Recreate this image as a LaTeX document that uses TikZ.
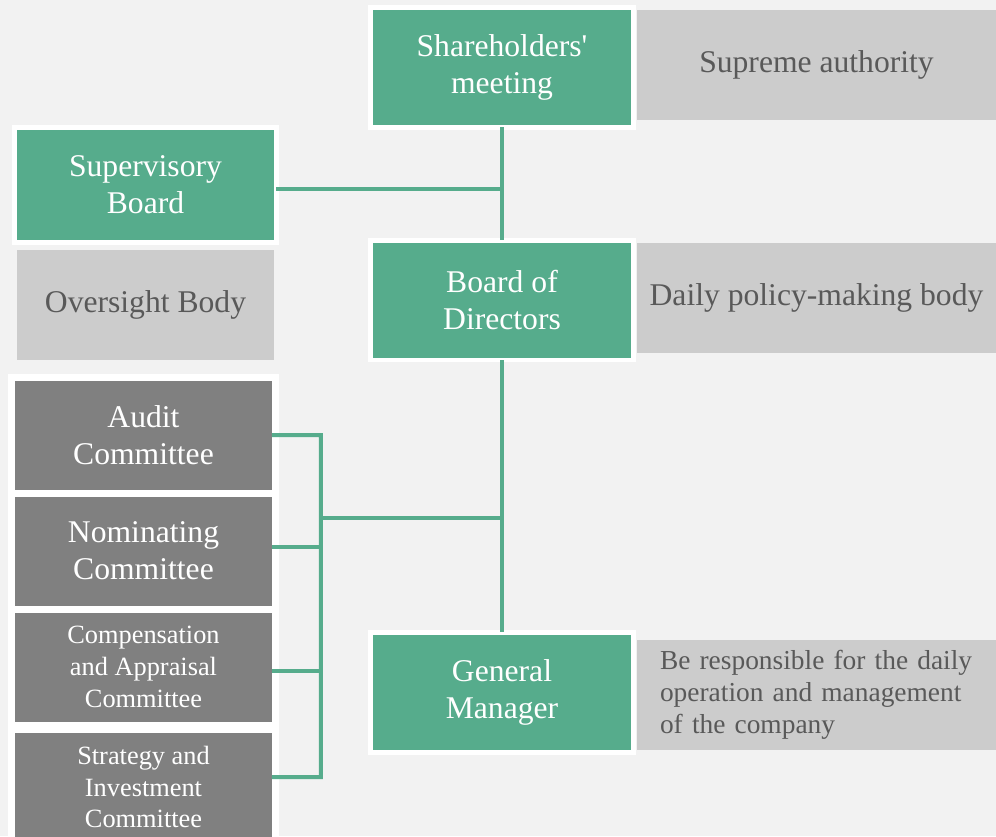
\documentclass[tikz,border=0pt]{standalone}
\usepackage{fontspec}
\newfontfamily\orgfont{LiberationSerif}[Extension=.ttf, UprightFont=*-Regular, BoldFont=*-Bold]
\definecolor{orggreen}{RGB}{86,172,140}
\definecolor{bggray}{RGB}{242,242,242}
\definecolor{descgray}{RGB}{204,204,204}
\definecolor{commgray}{RGB}{128,128,128}
\definecolor{txtgray}{RGB}{89,89,89}
\begin{document}
\begin{tikzpicture}[x=0.02cm, y=-0.02cm,
    organ/.style={fill=orggreen, draw=white, line width=0.1cm, text=white, align=center,
        minimum width=5.26cm, minimum height=2.4cm, outer sep=0pt, inner sep=0pt, big},
    desc/.style={fill=descgray, text=txtgray, minimum width=7.18cm, minimum height=2.2cm,
        outer sep=0pt, inner sep=0pt},
    comm/.style={fill=commgray, text=white, align=center, minimum width=5.14cm,
        minimum height=2.18cm, outer sep=0pt, inner sep=0pt},
    big/.style={font=\orgfont\fontsize{18}{21}\selectfont},
    small/.style={font=\orgfont\fontsize{15}{18}\selectfont},
    link/.style={draw=orggreen, line width=0.08cm}]
    \useasboundingbox[fill=bggray] (0,0) rectangle (996,836);
    \clip (0,0) rectangle (996,836);
    % main line
    \node[organ] (share) at (502,67.5) {Shareholders'\\meeting};
    \node[desc, big] (supreme) at (816.5,65) {Supreme authority};
    \node[organ] (board) at (502,300) {Board of\\Directors};
    \node[desc, big] (policy) at (816.5,297.5) {Daily policy-making body};
    \node[organ] (gm) at (502,692) {General\\Manager};
    \node[desc, small, align=left, text width=6.26cm, font=\orgfont\fontsize{15.6}{18.2}\selectfont] (gmdesc) at (816.5,694.5)
        {Be responsible for the daily\\operation and management\\of the company};
    % supervision
    \node[organ, minimum width=5.24cm, minimum height=2.3cm] (sup) at (145.5,185) {Supervisory\\Board};
    \node[desc, big, minimum width=5.14cm] (oversight) at (145.5,305) {Oversight Body};
    % committees
    \fill[white] (8,374) rectangle (279,850);
    \node[comm, big] (audit) at (143.5,435) {Audit\\Committee};
    \node[comm, big] (nom) at (143.5,551) {Nominating\\Committee};
    \node[comm, small] (comp) at (143.5,667) {Compensation\\and Appraisal\\Committee};
    \node[comm, small] (strat) at (143.5,787) {Strategy and\\Investment\\Committee};
    % connectors
    \draw[link] (share.south) -- (board.north);
    \draw[link] (board.south) -- (gm.north);
    \draw[link] ([yshift=-0.08cm]sup.east) -- ++(226,0);
    \draw[link] (audit.east) -- ++(49,0) coordinate (btop) -- (btop |- 0,777) -- ([yshift=0.2cm]strat.east);
    \draw[link] ([yshift=0.08cm]nom.east) -- ++(49,0);
    \draw[link] ([yshift=-0.08cm]comp.east) -- ++(49,0);
    \coordinate (bmid) at (321,518);
    \draw[link] (bmid) -- (bmid -| board.south);
\end{tikzpicture}
\end{document}
